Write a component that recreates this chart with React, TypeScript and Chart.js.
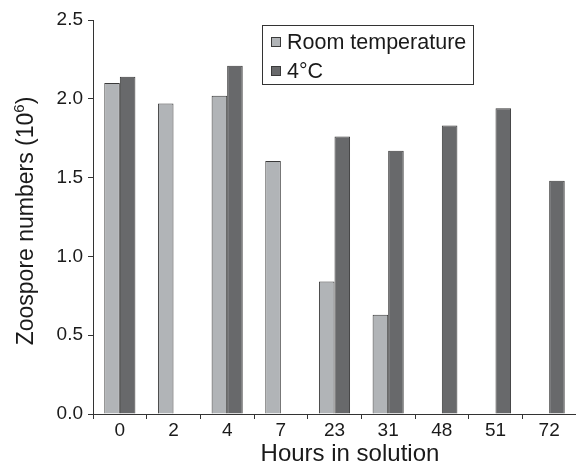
import React, { useEffect, useRef } from "react";
import { Chart, registerables } from "chart.js";

Chart.register(...registerables);

const categories = ["0", "2", "4", "7", "23", "31", "48", "51", "72"];
const roomTemp = [2.1, 1.97, 2.02, 1.605, 0.84, 0.63, null, null, null];
const cold = [2.14, null, 2.21, null, 1.76, 1.67, 1.83, 1.94, 1.48];
const seriesLabels = ["Room temperature", "4°C"];
const yTicks = [0, 0.5, 1.0, 1.5, 2.0, 2.5];
const xTitle = "Hours in solution";
const yTitleMain = "Zoospore numbers (10";
const yTitleSup = "6";
const yTitleEnd = ")";

const FONT = "'Liberation Sans', Arial, Helvetica, sans-serif";
const AXIS = "#333333";
const ROOM_FILL = "#b1b4b7";
const COLD_FILL = "#68696b";
const BORDER = "#3a3a3a";

const overlayPlugin = {
  id: "overlay",
  afterDraw(chart: any) {
    const ctx = chart.ctx as CanvasRenderingContext2D;
    const area = chart.chartArea;
    ctx.save();
    // x title
    ctx.fillStyle = "#1a1a1a";
    ctx.font = `24px ${FONT}`;
    ctx.textAlign = "center";
    ctx.textBaseline = "alphabetic";
    ctx.fillText(xTitle, area.left + (area.right - area.left) * 0.532, 461);
    // y title with superscript
    ctx.save();
    ctx.translate(25, (area.top + area.bottom) / 2 + 4);
    ctx.rotate(-Math.PI / 2);
    ctx.font = `23px ${FONT}`;
    const w1 = ctx.measureText(yTitleMain).width;
    ctx.font = `15px ${FONT}`;
    const w2 = ctx.measureText(yTitleSup).width;
    ctx.font = `23px ${FONT}`;
    const w3 = ctx.measureText(yTitleEnd).width;
    const total = w1 + w2 + w3;
    let x = -total / 2;
    ctx.textAlign = "left";
    ctx.textBaseline = "alphabetic";
    ctx.fillText(yTitleMain, x, 8);
    x += w1;
    ctx.font = `15px ${FONT}`;
    ctx.fillText(yTitleSup, x, -1);
    x += w2;
    ctx.font = `23px ${FONT}`;
    ctx.fillText(yTitleEnd, x, 8);
    ctx.restore();

    // legend
    const bx = 262, by = 25, bw = 211, bh = 59;
    ctx.fillStyle = "#ffffff";
    ctx.fillRect(bx, by, bw, bh);
    ctx.strokeStyle = AXIS;
    ctx.lineWidth = 1;
    ctx.strokeRect(bx + 0.5, by + 0.5, bw, bh);
    const ds = chart.data.datasets;
    ds.forEach((d: any, i: number) => {
      const cy = by + 17 + i * 29;
      ctx.fillStyle = d.backgroundColor;
      ctx.fillRect(271, cy - 5, 10, 10);
      ctx.strokeStyle = BORDER;
      ctx.strokeRect(271.5, cy - 4.5, 9, 9);
      ctx.fillStyle = "#1a1a1a";
      ctx.font = `21.5px ${FONT}`;
      ctx.textAlign = "left";
      ctx.textBaseline = "middle";
      ctx.fillText(d.label, 287, cy + 1);
    });
    ctx.restore();
  },
};

export default function App() {
  const ref = useRef<HTMLCanvasElement>(null);
  useEffect(() => {
    if (!ref.current) return;
    const chart = new Chart(ref.current, {
      type: "bar",
      data: {
        labels: categories,
        datasets: [
          {
            label: seriesLabels[0],
            data: roomTemp as any,
            backgroundColor: ROOM_FILL,
            borderColor: BORDER,
            borderWidth: 1,
            categoryPercentage: 0.58,
            barPercentage: 1,
          },
          {
            label: seriesLabels[1],
            data: cold as any,
            backgroundColor: COLD_FILL,
            borderColor: BORDER,
            borderWidth: 1,
            categoryPercentage: 0.58,
            barPercentage: 1,
          },
        ],
      },
      options: {
        animation: false,
        responsive: true,
        maintainAspectRatio: false,
        layout: { padding: { top: 20, right: 0, left: 0, bottom: 0 } },
        plugins: { legend: { display: false }, tooltip: { enabled: false } },
        scales: {
          x: {
            offset: true,
            grid: {
              offset: true,
              drawOnChartArea: false,
              drawTicks: true,
              tickLength: 5,
              color: AXIS,
            },
            border: { color: AXIS, width: 1 },
            ticks: {
              color: "#1a1a1a",
              font: { family: FONT, size: 19 },
              padding: 0,
              maxRotation: 0,
              autoSkip: false,
            },
            afterFit: (s: any) => {
              s.height = 50;
            },
          },
          y: {
            min: 0,
            max: 2.5,
            afterBuildTicks: (s: any) => {
              s.ticks = yTicks.map((v) => ({ value: v }));
            },
            grid: {
              drawOnChartArea: false,
              drawTicks: true,
              tickLength: 5,
              color: AXIS,
            },
            border: { color: AXIS, width: 1 },
            ticks: {
              color: "#1a1a1a",
              font: { family: FONT, size: 19 },
              padding: 5,
              callback: (v: any) => Number(v).toFixed(1),
            },
            afterFit: (s: any) => {
              s.width = 93;
            },
          },
        },
      },
      plugins: [overlayPlugin],
    });
    return () => chart.destroy();
  }, []);
  return (
    <div style={{ position: "absolute", left: 0, top: 0, width: 576, height: 464, background: "#fff" }}>
      <canvas ref={ref} />
    </div>
  );
}
